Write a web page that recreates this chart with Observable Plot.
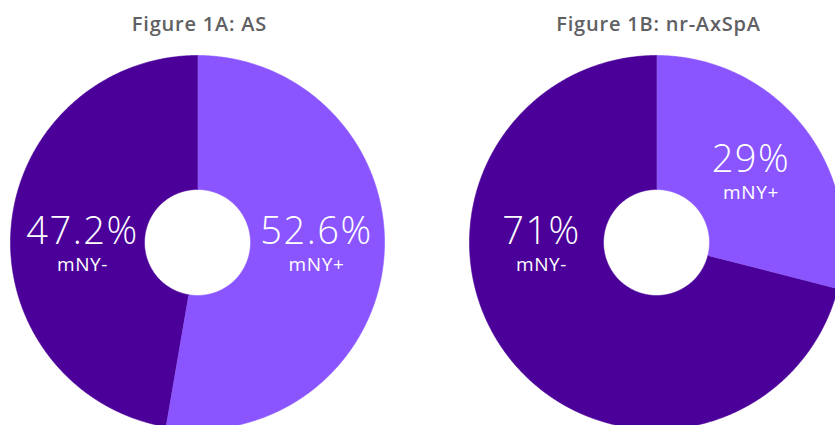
<!DOCTYPE html>
<html>
<head>
<meta charset="utf-8">
<script src="https://cdn.jsdelivr.net/npm/d3@7"></script>
<script src="https://cdn.jsdelivr.net/npm/@observablehq/plot@0.6"></script>
<style>
  html, body { margin: 0; padding: 0; background: #ffffff; }
  #chart svg { display: block; }
</style>
</head>
<body>
<div id="chart"></div>
<script>
// ---- Data ----
const chartTitles = ["Figure 1A: AS", "Figure 1B: nr-AxSpA"];
const categories = ["mNY+", "mNY-"];
const valuesAS = [52.6, 47.2];
const valuesNrAxSpA = [29, 71];
const seriesValues = [valuesAS, valuesNrAxSpA];

// ---- Layout (not data) ----
const W = 835, H = 425;
const centersX = [197, 656];
const centerY = 242;
const outerR = 187;
const innerR = 53;
const labelR = 117;
const colors = ["#8a55ff", "#4a0099"];

// ---- Build geometry from data ----
const slicePoints = [];
const labels = [];
seriesValues.forEach((vals, ci) => {
  const total = d3.sum(vals);
  let a0 = 0;
  const cx = centersX[ci];
  vals.forEach((v, si) => {
    const a1 = a0 + (v / total) * 2 * Math.PI;
    const key = ci + "-" + si;
    const n = Math.max(2, Math.ceil((a1 - a0) / (Math.PI / 360)));
    const pts = [];
    for (let k = 0; k <= n; k++) {
      const a = a0 + (a1 - a0) * k / n;
      pts.push({key, cat: categories[si], x: cx + outerR * Math.sin(a), y: centerY - outerR * Math.cos(a)});
    }
    for (let k = n; k >= 0; k--) {
      const a = a0 + (a1 - a0) * k / n;
      pts.push({key, cat: categories[si], x: cx + innerR * Math.sin(a), y: centerY - innerR * Math.cos(a)});
    }
    slicePoints.push(...pts);
    // label angle: mid-angle, snapped to the horizontal side for wide slices
    let mid = (a0 + a1) / 2;
    if (a1 - a0 > 0.9 * Math.PI) {
      mid = mid > Math.PI ? 3 * Math.PI / 2 : Math.PI / 2;
    }
    labels.push({
      x: cx + labelR * Math.sin(mid) + 2,
      y: centerY - labelR * Math.cos(mid),
      pct: v + "%",
      cat: categories[si]
    });
    a0 = a1;
  });
});
const titles = chartTitles.map((t, i) => ({t, x: centersX[i] + 2}));

const font = "'Open Sans', 'Noto Sans', sans-serif";
const chart = Plot.plot({
  width: W,
  height: H,
  margin: 0,
  style: {background: "#ffffff", overflow: "hidden"},
  x: {domain: [0, W], range: [0, W], axis: null},
  y: {domain: [0, H], range: [0, H], axis: null},
  color: {domain: categories, range: colors},
  marks: [
    Plot.line(slicePoints, {x: "x", y: "y", z: "key", fill: "cat", stroke: "cat", strokeWidth: 0.6, curve: "linear"}),
    Plot.text(labels, {x: "x", y: "y", text: "pct", fill: "#ffffff", fontSize: 38, fontWeight: 300, fontFamily: font, lineAnchor: "middle", dy: -11}),
    Plot.text(labels, {x: "x", y: "y", text: "cat", fill: "#ffffff", fontSize: 19, fontWeight: 400, fontFamily: font, lineAnchor: "middle", dy: 22}),
    Plot.text(titles, {x: "x", y: () => 24.5, text: "t", fill: "#5f6063", fontSize: 20, fontWeight: 600, fontFamily: font, lineAnchor: "middle"})
  ]
});
// letter spacing to mimic the wider original typeface
const textGroups = chart.querySelectorAll('g[aria-label="text"]');
const spacing = ["1.5px", "0.6px", "0.8px"];
textGroups.forEach((g, i) => { g.style.letterSpacing = spacing[i] || "0px"; });
document.getElementById("chart").appendChild(chart);
</script>
</body>
</html>
